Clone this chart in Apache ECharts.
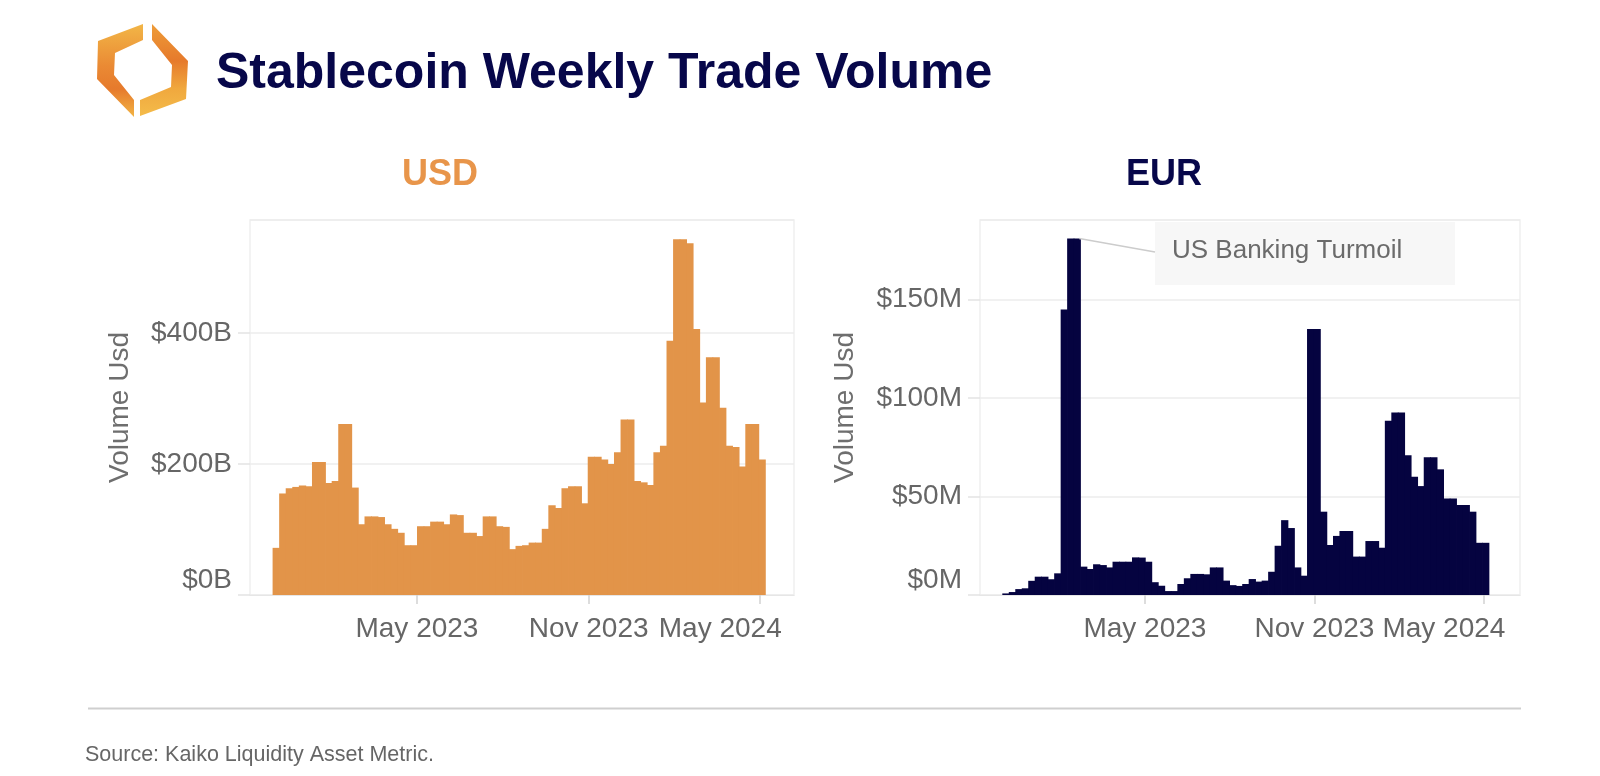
<!DOCTYPE html>
<html>
<head>
<meta charset="utf-8">
<script src="https://cdn.jsdelivr.net/npm/echarts@6/dist/echarts.min.js"></script>
<style>
html,body{margin:0;padding:0;background:#ffffff;}
#chart{width:1600px;height:776px;}
</style>
</head>
<body>
<div id="chart"></div>
<script>
// ---------------- data ----------------
const firstWeek = '2023-01-01';           // first weekly bucket
const usdVolumeB = [
  72,155,163,165,167,166,203,203,171,174,
  261,261,164,108,120,120,119,108,101,95,
  76,76,105,105,112,112,108,123,122,95,
  95,90,120,120,105,104,70,75,76,80,
  80,101,137,133,163,166,166,140,211,211,
  207,200,218,268,268,174,172,168,218,228,
  388,543,543,537,406,294,363,363,286,228,
  226,196,261,261,207
];
const eurVolumeM = [
  0.8,1.5,3,3.4,7.2,9.3,9.3,8,11,145,
  181,181,14.4,13.2,15.6,15.2,14,16.9,16.9,16.9,
  19.1,19,16.9,6.5,4.7,2,2,5.6,8.5,10.7,
  10.7,10.5,14,14,7.3,5,4.6,5.6,8.1,6.8,
  7.3,11.8,25,38,34,14,9.8,135,135,42.3,
  25.4,30,32.5,32.5,19.5,19.5,27.4,27.4,24,88.5,
  92.7,92.7,71,60,55.3,70,70,63.8,49,49,
  45.7,45.7,42.3,26.5,26.5
];
const xTickDates = ['2023-05-31','2023-11-30','2024-05-31'];
const xTickLabels = ['May 2023','Nov 2023','May 2024'];
const panelTitles = ['USD','EUR'];
const axisTitle = 'Volume Usd';
const annotationText = 'US Banking Turmoil';
const annotationIndex = 11;
const mainTitle = 'Stablecoin Weekly Trade Volume';
const sourceText = 'Source: Kaiko Liquidity Asset Metric.';

// ---------------- helpers ----------------
const DAY = 86400000;
const t0 = Date.parse(firstWeek + 'T00:00:00Z');
const weekTimes = usdVolumeB.map((_, i) => t0 + i * 7 * DAY);
const tickTimes = xTickDates.map(d => Date.parse(d + 'T00:00:00Z'));
const xMin = Date.parse('2022-12-04T00:00:00Z');
const xMaxUsd = Date.parse('2024-07-06T00:00:00Z');
const xMaxEur = Date.parse('2024-07-09T00:00:00Z');

const FONT = '"Liberation Sans", Arial, Helvetica, sans-serif';
const GREY = '#666666';
const ORANGE = '#e29449';
const NAVY = '#050340';
const TITLE_NAVY = '#07074a';

function xAxisCfg(gridIndex, xMax) {
  return {
    type: 'value', gridIndex, min: xMin, max: xMax, scale: true,
    axisLine: {show: true, onZero: false, lineStyle: {color: '#e6e6e6', width: 1}},
    axisTick: {show: true, length: 9, customValues: tickTimes, lineStyle: {color: '#d2d2d2', width: 1.5}},
    splitLine: {show: false},
    axisLabel: {
      customValues: tickTimes, margin: 20, fontSize: 28, color: GREY, fontFamily: FONT,
      formatter: v => {
        const i = tickTimes.indexOf(v);
        if (i < 0) return '';
        return i === tickTimes.length - 1 ? '{s|' + xTickLabels[i] + '}' : xTickLabels[i];
      },
      rich: {s: {padding: [0, 80, 0, 0], fontSize: 28, color: GREY, fontFamily: FONT}}
    }
  };
}
function yAxisCfg(gridIndex, max, interval, unit, nameGap) {
  return {
    type: 'value', gridIndex, min: 0, max, interval,
    name: axisTitle, nameLocation: 'middle', nameGap,
    nameTextStyle: {fontSize: 28, color: '#6e6e6e', fontFamily: FONT},
    axisLine: {show: false},
    axisTick: {show: true, length: 12, lineStyle: {color: '#e3e3e3', width: 1.5}},
    splitLine: {show: true, lineStyle: {color: '#ededed', width: 1.5}},
    axisLabel: {
      showMaxLabel: false, margin: 18, fontSize: 28, color: GREY, fontFamily: FONT,
      formatter: v => v === 0 ? '{z|$0' + unit + '}' : '$' + v + unit,
      rich: {z: {padding: [0, 0, 30, 0], fontSize: 28, color: GREY, fontFamily: FONT}}
    }
  };
}

const chart = echarts.init(document.getElementById('chart'), null, {renderer: 'canvas'});

const option = {
  animation: false,
  backgroundColor: '#ffffff',
  textStyle: {fontFamily: FONT},
  grid: [
    {left: 250, right: 806, top: 220, bottom: 181, show: true, borderColor: '#efefef', borderWidth: 1.5},
    {left: 980, right: 80, top: 220, bottom: 181, show: true, borderColor: '#efefef', borderWidth: 1.5}
  ],
  xAxis: [xAxisCfg(0, xMaxUsd), xAxisCfg(1, xMaxEur)],
  yAxis: [yAxisCfg(0, 572.5, 200, 'B', 116), yAxisCfg(1, 190.4, 50, 'M', 121)],
  series: [
    {
      type: 'bar', name: 'USD', xAxisIndex: 0, yAxisIndex: 0,
      data: weekTimes.map((t, i) => [t, usdVolumeB[i]]),
      barWidth: '112%',
      itemStyle: {color: ORANGE},
      emphasis: {disabled: true}
    },
    {
      type: 'bar', name: 'EUR', xAxisIndex: 1, yAxisIndex: 1,
      data: weekTimes.map((t, i) => [t, eurVolumeM[i]]),
      barWidth: '112%',
      itemStyle: {color: NAVY},
      emphasis: {disabled: true}
    }
  ]
};
chart.setOption(option);

// annotation anchored to the EUR peak through the chart's own scales
const peak = chart.convertToPixel({xAxisIndex: 1, yAxisIndex: 1}, [weekTimes[annotationIndex], eurVolumeM[annotationIndex]]);

const logoGradA = new echarts.graphic.LinearGradient(0, 0, 0, 1, [
  {offset: 0, color: '#f2b647'}, {offset: 0.45, color: '#ea8a34'}, {offset: 0.7, color: '#e67a2c'}, {offset: 1, color: '#f2b444'}
]);
const logoGradB = new echarts.graphic.LinearGradient(0, 0, 0, 1, [
  {offset: 0, color: '#ee9c38'}, {offset: 0.4, color: '#e67a2c'}, {offset: 0.7, color: '#f0a83e'}, {offset: 1, color: '#f4bb4a'}
]);

chart.setOption({
  graphic: [
    {type: 'polygon', shape: {points: [[143,24],[98,41],[97,79],[134,117],[134,100],[114,75],[115,53],[143,40]]}, style: {fill: logoGradA}},
    {type: 'polygon', shape: {points: [[140,116],[186,99],[188,61],[152,24],[152,40],[172,65],[171,87],[140,100]]}, style: {fill: logoGradB}},
    {type: 'text', x: 216, y: 74, style: {text: mainTitle, fill: TITLE_NAVY, font: 'bold 50px ' + FONT, textAlign: 'left', textVerticalAlign: 'middle'}},
    {type: 'text', x: 440, y: 175, style: {text: panelTitles[0], fill: '#e8954a', font: 'bold 36px ' + FONT, textAlign: 'center', textVerticalAlign: 'middle'}},
    {type: 'text', x: 1164, y: 175, style: {text: panelTitles[1], fill: TITLE_NAVY, font: 'bold 36px ' + FONT, textAlign: 'center', textVerticalAlign: 'middle'}},
    {type: 'rect', z: 10, shape: {x: 1155, y: 222, width: 300, height: 63}, style: {fill: '#f7f7f7'}},
    {type: 'line', z: 10, shape: {x1: peak[0] + 2, y1: peak[1], x2: 1155, y2: 252}, style: {stroke: '#cccccc', lineWidth: 1.5}},
    {type: 'text', z: 11, x: 1172, y: 251, style: {text: annotationText, fill: '#6b6b6b', font: '26px ' + FONT, textAlign: 'left', textVerticalAlign: 'middle'}},
    {type: 'line', shape: {x1: 88, y1: 708.5, x2: 1521, y2: 708.5}, style: {stroke: '#cfcfcf', lineWidth: 2}},
    {type: 'text', x: 85, y: 755, style: {text: sourceText, fill: '#666666', font: '21.5px ' + FONT, textAlign: 'left', textVerticalAlign: 'middle'}}
  ]
});
</script>
</body>
</html>
